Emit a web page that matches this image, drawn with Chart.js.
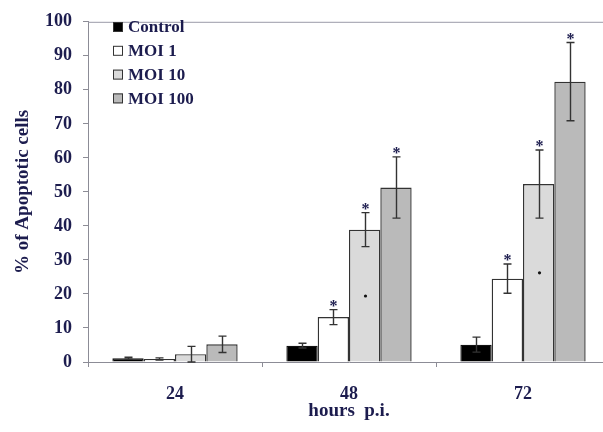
<!DOCTYPE html>
<html><head><meta charset="utf-8">
<script src="https://cdn.jsdelivr.net/npm/chart.js@4/dist/chart.umd.min.js"></script>
<style>html,body{margin:0;padding:0;background:#fff;overflow:hidden;}
#wrap{width:620px;height:432px;position:relative;}</style>
</head><body><div id="wrap"><canvas id="c" width="620" height="432"></canvas></div>
<script>
const categories = ['24', '48', '72'];
const seriesNames = ['Control', 'MOI 1', 'MOI 10', 'MOI 100'];
const control = [1.1, 4.8, 5.1];
const moi1 = [0.9, 13.2, 24.5];
const moi10 = [2.3, 38.9, 52.3];
const moi100 = [5.2, 51.3, 82.4];
const controlErr = [0.3, 0.7, 2.2];
const moi1Err = [0.3, 2.2, 4.3];
const moi10Err = [2.3, 5.0, 10.0];
const moi100Err = [2.4, 9.0, 11.5];
const controlStar = [false, false, false];
const moi1Star = [false, true, true];
const moi10Star = [false, true, true];
const moi100Star = [false, true, true];
const moi10Dot = [null, 19.4, 26.2];
const yTickValues = [0, 10, 20, 30, 40, 50, 60, 70, 80, 90, 100];

const TXT = '#1c1c4e';
const FONT = '"Liberation Serif", "Times New Roman", serif';

const datasets = [
  {label: seriesNames[0], data: control, err: controlErr, star: controlStar, backgroundColor: '#000000', borderColor: '#111111'},
  {label: seriesNames[1], data: moi1, err: moi1Err, star: moi1Star, backgroundColor: '#ffffff', borderColor: '#333333'},
  {label: seriesNames[2], data: moi10, err: moi10Err, star: moi10Star, dot: moi10Dot, backgroundColor: '#dadada', borderColor: '#333333'},
  {label: seriesNames[3], data: moi100, err: moi100Err, star: moi100Star, backgroundColor: '#bababa', borderColor: '#333333'}
].map(d => Object.assign(d, {borderWidth: 1.4, categoryPercentage: 0.72, barPercentage: 1.0}));

const extras = {
  id: 'extras',
  afterDatasetsDraw(chart) {
    const ctx = chart.ctx, y = chart.scales.y, area = chart.chartArea;
    ctx.save();
    ctx.strokeStyle = '#9a9aa8'; ctx.lineWidth = 1;
    ctx.beginPath(); ctx.moveTo(area.left, area.top + 0.5); ctx.lineTo(area.right, area.top + 0.5); ctx.stroke();
    chart.data.datasets.forEach((ds, di) => {
      const meta = chart.getDatasetMeta(di);
      meta.data.forEach((bar, i) => {
        const v = ds.data[i], e = ds.err[i];
        const x = Math.round(bar.x) + 0.5;
        const yt = y.getPixelForValue(v + e), yb = y.getPixelForValue(Math.max(0, v - e));
        ctx.strokeStyle = '#333333'; ctx.lineWidth = 1.4;
        ctx.beginPath();
        ctx.moveTo(x, yt); ctx.lineTo(x, yb);
        ctx.moveTo(x - 4, yt); ctx.lineTo(x + 4, yt);
        ctx.moveTo(x - 4, yb); ctx.lineTo(x + 4, yb);
        ctx.stroke();
        if (ds.star[i]) {
          ctx.fillStyle = TXT; ctx.font = 'bold 16px ' + FONT;
          ctx.textAlign = 'center'; ctx.textBaseline = 'alphabetic';
          ctx.fillText('*', x, yt + 1);
        }
        if (ds.dot && ds.dot[i] != null) {
          ctx.fillStyle = '#111';
          ctx.beginPath(); ctx.arc(x, y.getPixelForValue(ds.dot[i]), 1.6, 0, Math.PI * 2); ctx.fill();
        }
      });
    });
    chart.data.datasets.forEach((ds, di) => {
      const cy = 27 + di * 23.8;
      ctx.fillStyle = ds.backgroundColor; ctx.strokeStyle = '#333';
      ctx.lineWidth = 1;
      ctx.fillRect(113, cy - 5, 10, 10);
      ctx.strokeRect(113.5, cy - 4.5, 9, 9);
      ctx.fillStyle = TXT; ctx.font = 'bold 17px ' + FONT;
      ctx.textAlign = 'left'; ctx.textBaseline = 'middle';
      ctx.fillText(ds.label, 128, cy + 1);
    });
    ctx.restore();
  }
};

new Chart(document.getElementById('c'), {
  type: 'bar',
  data: {labels: categories, datasets},
  plugins: [extras],
  options: {
    responsive: false, animation: false, devicePixelRatio: 1,
    layout: {padding: {top: 11, right: 10, left: 0, bottom: 0}},
    plugins: {legend: {display: false}, tooltip: {enabled: false}},
    scales: {
      x: {
        offset: true,
        grid: {offset: true, drawOnChartArea: false, color: '#8c8c96', tickLength: 5},
        border: {color: '#8c8c96', width: 1},
        ticks: {color: TXT, font: {family: FONT, size: 18, weight: 'bold'}, padding: 17},
        title: {display: true, text: 'hours  p.i.', color: TXT, font: {family: FONT, size: 19, weight: 'bold'}, padding: {top: 0, bottom: 10}},
        afterFit(s) { s.height = 70; }
      },
      y: {
        min: 0, max: 100,
        afterBuildTicks(s) { s.ticks = yTickValues.map(v => ({value: v})); },
        grid: {drawOnChartArea: false, color: '#8c8c96', tickLength: 5},
        border: {color: '#8c8c96', width: 1},
        ticks: {color: TXT, font: {family: FONT, size: 18, weight: 'bold'}, padding: 11},
        title: {display: true, text: '% of Apoptotic cells', color: TXT, font: {family: FONT, size: 19, weight: 'bold'}, padding: {top: 12, bottom: 0}},
        afterFit(s) { s.width = 88; }
      }
    }
  }
});
</script></body></html>
